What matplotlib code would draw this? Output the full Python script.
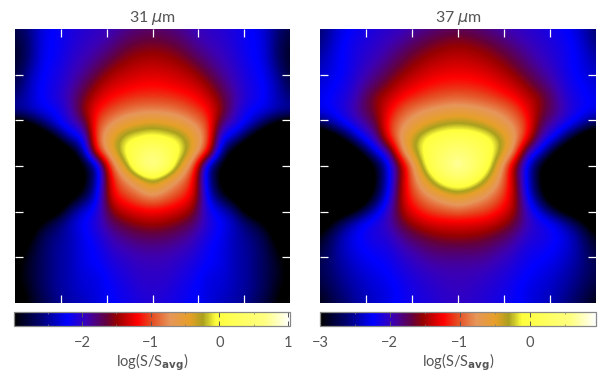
#!/usr/bin/env python3
"""Two flux maps with their log(S/Savg) colour bars."""

import matplotlib
matplotlib.use('Agg')
import matplotlib.pyplot as plt
from matplotlib.colors import LinearSegmentedColormap
import numpy as np

# log values, one list per column, top row first.
# c00 is the centre column, the maps are mirrored about it.
m31_c00 = [-1.75, -1.6, -1.45, -1.33, -1.2, -1.05, -.75, -.3, .05, .6, .95, -.15, -.6, -1.1, -1.4, -1.68, -1.85, -1.95, -2.0, -2.03, -2.05]
m31_c01 = [-1.78, -1.63, -1.48, -1.35, -1.22, -1.05, -.78, -.38, 0, .3, .45, -.5, -.8, -1.15, -1.45, -1.7, -1.87, -1.97, -2.0, -2.05, -2.1]
m31_c02 = [-1.85, -1.7, -1.55, -1.4, -1.28, -1.1, -.85, -.48, -.1, 0, -.35, -.75, -1.0, -1.25, -1.55, -1.78, -1.93, -2.02, -2.08, -2.13, -2.15]
m31_c03 = [-1.95, -1.85, -1.7, -1.5, -1.33, -1.18, -.98, -.7, -.42, -.45, -.9, -1.15, -1.2, -1.45, -1.7, -1.9, -2.0, -2.1, -2.15, -2.2, -2.22]
m31_c04 = [-2.0, -1.95, -1.85, -1.7, -1.5, -1.32, -1.15, -.95, -.85, -1.05, -2.5, -2.4, -2.3, -2.15, -2.05, -2.1, -2.2, -2.2, -2.3, -2.3, -2.3]
m31_c05 = [-2.05, -2.0, -1.95, -1.88, -1.75, -1.6, -1.5, -1.85, -2.25, -2.5, -3.0, -3.1, -2.9, -2.4, -2.2, -2.25, -2.27, -2.27, -2.3, -2.33, -2.4]
m31_c06 = [-2.1, -2.1, -2.05, -2.0, -1.95, -1.88, -1.95, -2.05, -2.4, -3.2, -3.5, -3.5, -3.3, -2.7, -2.4, -2.42, -2.42, -2.42, -2.42, -2.42, -2.45]
m31_c07 = [-2.2, -2.2, -2.2, -2.15, -2.12, -2.1, -2.2, -2.3, -3.0, -3.6, -3.6, -3.6, -3.6, -3.4, -2.7, -2.55, -2.5, -2.5, -2.5, -2.5, -2.55]
m31_c08 = [-2.3, -2.25, -2.25, -2.22, -2.2, -2.18, -2.25, -2.7, -3.5, -3.7, -3.7, -3.7, -3.7, -3.5, -3.0, -2.7, -2.65, -2.65, -2.65, -2.65, -2.75]
m31_c09 = [-2.55, -2.6, -2.6, -2.5, -2.4, -2.4, -2.4, -3.1, -3.7, -3.7, -3.7, -3.7, -3.7, -3.6, -3.4, -3.1, -2.95, -2.85, -2.85, -2.9, -2.95]
m31_c10 = [-2.75, -2.85, -2.9, -2.85, -2.75, -2.6, -2.45, -3.4, -3.8, -3.8, -3.8, -3.8, -3.8, -3.8, -3.6, -3.4, -3.2, -3.1, -3.05, -3.1, -3.2]

m37_c00 = [-1.75, -1.55, -1.42, -1.3, -1.17, -.95, -.6, -.25, .15, .55, .9, .3, -.35, -.8, -1.25, -1.5, -1.75, -1.9, -1.97, -2.0, -2.02]
m37_c01 = [-1.78, -1.58, -1.45, -1.32, -1.18, -.98, -.65, -.28, .1, .35, .5, .15, -.5, -.9, -1.25, -1.52, -1.75, -1.9, -1.98, -2.02, -2.05]
m37_c02 = [-1.85, -1.65, -1.5, -1.36, -1.22, -1.03, -.72, -.4, 0, .1, .1, -.3, -.7, -.98, -1.28, -1.58, -1.78, -1.92, -2.02, -2.07, -2.1]
m37_c03 = [-1.92, -1.75, -1.6, -1.45, -1.3, -1.12, -.82, -.58, -.25, -.25, -.55, -.75, -.95, -1.15, -1.4, -1.68, -1.88, -2.0, -2.08, -2.12, -2.15]
m37_c04 = [-2.0, -1.87, -1.72, -1.58, -1.4, -1.22, -.98, -.78, -.62, -.7, -1.5, -1.4, -1.35, -1.4, -1.6, -1.82, -1.98, -2.08, -2.15, -2.2, -2.2]
m37_c05 = [-2.05, -1.97, -1.87, -1.75, -1.58, -1.4, -1.25, -1.1, -1.2, -2.0, -2.3, -2.3, -2.25, -2.05, -1.95, -2.05, -2.15, -2.2, -2.25, -2.3, -2.3]
m37_c06 = [-2.1, -2.05, -2.0, -1.9, -1.78, -1.55, -1.6, -1.75, -2.0, -2.3, -3.0, -3.0, -2.9, -2.5, -2.15, -2.1, -2.17, -2.25, -2.3, -2.35, -2.38]
m37_c07 = [-2.18, -2.12, -2.08, -2.03, -1.95, -1.85, -1.8, -2.0, -2.25, -3.0, -3.5, -3.6, -3.5, -3.0, -2.3, -2.2, -2.25, -2.3, -2.38, -2.42, -2.45]
m37_c08 = [-2.25, -2.2, -2.2, -2.2, -2.15, -2.1, -2.05, -2.2, -2.8, -3.5, -3.7, -3.7, -3.7, -3.4, -2.6, -2.35, -2.35, -2.42, -2.47, -2.52, -2.6]
m37_c09 = [-2.4, -2.35, -2.3, -2.3, -2.25, -2.2, -2.2, -2.45, -3.3, -3.7, -3.8, -3.8, -3.8, -3.6, -2.95, -2.6, -2.55, -2.55, -2.6, -2.65, -2.75]
m37_c10 = [-2.65, -2.6, -2.5, -2.42, -2.35, -2.3, -2.28, -2.8, -3.6, -3.8, -3.8, -3.8, -3.8, -3.8, -3.4, -3.0, -2.85, -2.75, -2.75, -2.85, -2.95]

bar_stops = [-3.0, -2.62, -2.23, -1.94, -1.65, -1.5, -1.2, -1.01, -.72, -.43, -.24, -.05, .67, 1.03]
bar_colors = ['#000000', '#00006e', '#0000ff', '#3c00b4', '#64003c', '#960000',
              '#ff0000', '#e6461e', '#e6965a', '#e6a028', '#aaa01e', '#ffff3c',
              '#ffff82', '#ffffff']
tick_positions = [1, 2, 3, 4, 5]
titles = ['31 $\\mu$m', '37 $\\mu$m']
bar_ticks = [[-2, -1, 0, 1], [-3, -2, -1, 0]]
bar_minor = [[-2.5, -1.5, -.5, .5], [-2.5, -1.5, -.5, .5]]
bar_limits = [(-2.99, 1.03), (-3.0, .95)]

WIDTH, HEIGHT = 610, 377
MAP_BOXES = [(15, 29, 275, 274), (320, 29, 276, 274)]
BAR_BOXES = [(14, 312, 276, 14), (320, 312, 276, 14)]
TEXT_GRAY = '#555555'


def to_axes(box):
    left, top, width, height = box
    return [left / WIDTH, 1 - (top + height) / HEIGHT, width / WIDTH, height / HEIGHT]


def mirrored(columns):
    half = np.column_stack(columns)
    return np.hstack((half[:, :0:-1], half))


def main() -> None:
    plt.rcParams['font.family'] = ['Lato', 'DejaVu Sans']
    plt.rcParams['mathtext.fontset'] = 'custom'
    plt.rcParams['mathtext.rm'] = 'Lato'
    plt.rcParams['mathtext.it'] = 'DejaVu Sans:italic'

    maps = [
        mirrored([m31_c00, m31_c01, m31_c02, m31_c03, m31_c04, m31_c05,
                  m31_c06, m31_c07, m31_c08, m31_c09, m31_c10]),
        mirrored([m37_c00, m37_c01, m37_c02, m37_c03, m37_c04, m37_c05,
                  m37_c06, m37_c07, m37_c08, m37_c09, m37_c10]),
    ]

    figure = plt.figure(figsize=(WIDTH / 100, HEIGHT / 100), dpi=100)
    for index, data in enumerate(maps):
        vmin, vmax = bar_limits[index]
        fractions = [(stop - bar_stops[0]) / (bar_stops[-1] - bar_stops[0]) for stop in bar_stops]
        cmap = LinearSegmentedColormap.from_list('flux', list(zip(fractions, bar_colors)), N=512)

        axis = figure.add_axes(to_axes(MAP_BOXES[index]))
        half_x = 3 / (data.shape[1] - 1)
        half_y = 3 / (data.shape[0] - 1)
        image = axis.imshow(
            data,
            cmap=cmap,
            vmin=vmin,
            vmax=vmax,
            aspect='auto',
            interpolation='bicubic',
            extent=(-half_x, 6 + half_x, -half_y, 6 + half_y),
        )
        axis.set_xlim(0, 6)
        axis.set_ylim(0, 6)
        axis.set_xticks(tick_positions)
        axis.set_yticks(tick_positions)
        axis.tick_params(
            direction='in', length=5.8, width=0.9, color='white',
            top=True, right=True, labelbottom=False, labelleft=False,
        )
        for spine in axis.spines.values():
            spine.set_visible(False)
        axis.set_title(titles[index], fontsize=11.5, color=TEXT_GRAY, pad=5)

        bar_axis = figure.add_axes(to_axes(BAR_BOXES[index]))
        bar = figure.colorbar(image, cax=bar_axis, orientation='horizontal')
        bar.outline.set_edgecolor('#888888')
        bar.outline.set_linewidth(0.9)
        bar_axis.set_xticks(bar_ticks[index])
        bar_axis.set_xticks(bar_minor[index], minor=True)
        bar_axis.tick_params(
            axis='x', which='major', direction='in', length=3.5, width=0.7,
            color='#555555', top=True, labelsize=10.5, labelcolor=TEXT_GRAY, pad=7,
        )
        bar_axis.tick_params(
            axis='x', which='minor', direction='in', length=1.5, width=0.5,
            color='#777777', top=True,
        )
        bar_axis.set_xlabel(
            'log(S/S$_{\\mathbf{avg}}$)', fontsize=10.5, color=TEXT_GRAY, labelpad=1
        )

    figure.savefig('out.png', dpi=100)


if __name__ == '__main__':
    main()
